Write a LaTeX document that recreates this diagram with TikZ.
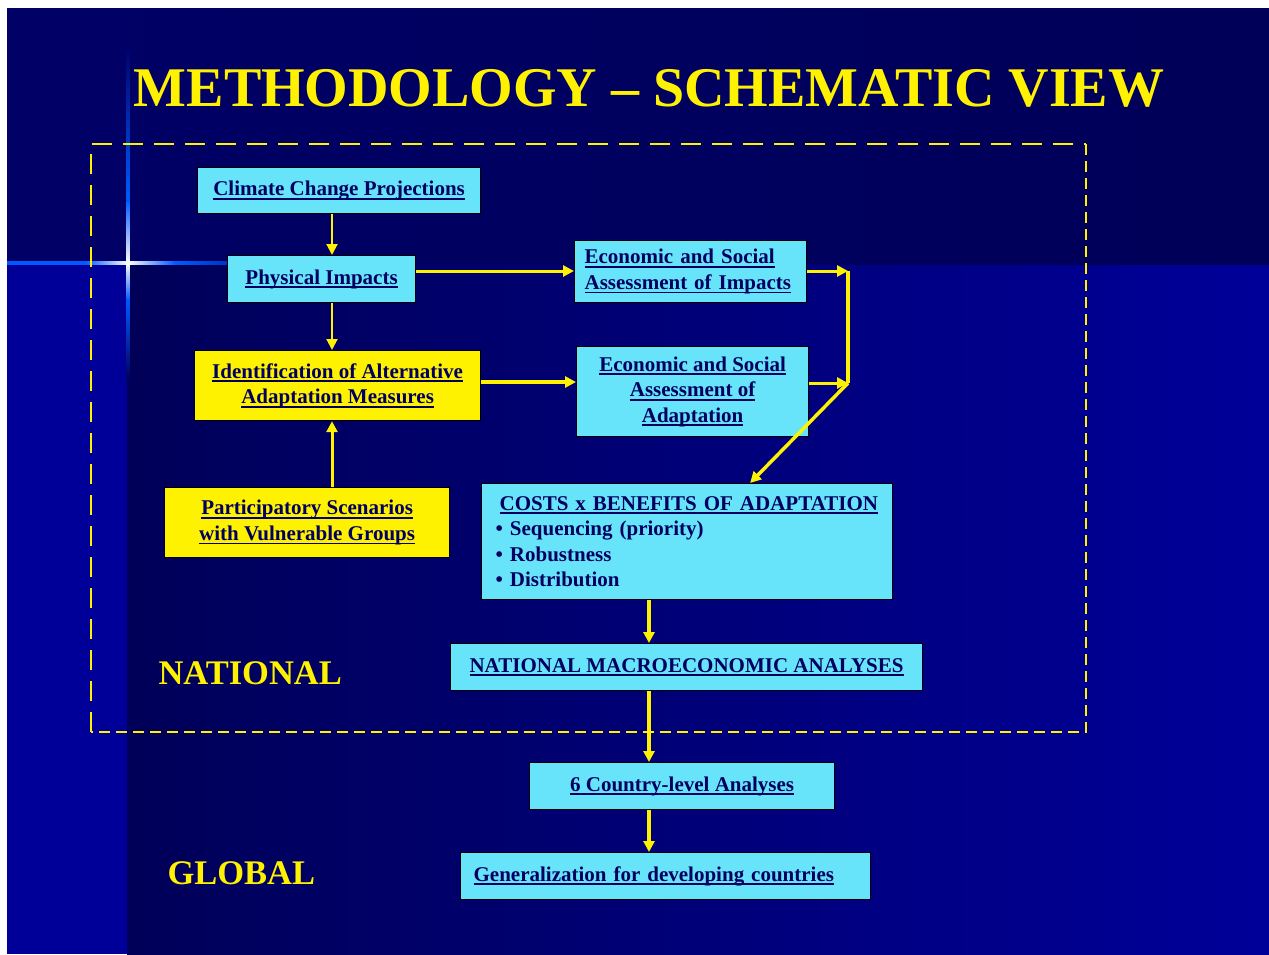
\documentclass[tikz,border=0pt]{standalone}
\usepackage{fontspec}
\setmainfont{Liberation Serif}
\usetikzlibrary{arrows.meta}

\definecolor{navybg}{RGB}{0,0,102}
\definecolor{navydeep}{RGB}{0,0,88}
\definecolor{bluebg}{RGB}{0,0,153}
\definecolor{glowblue}{RGB}{0,90,255}
\definecolor{boxcyan}{RGB}{104,228,250}
\definecolor{boxtext}{RGB}{0,0,96}

\newcommand{\boxfont}{\bfseries\fontsize{21}{25.5}\selectfont}
\newcommand{\ulin}[1]{\leavevmode\setbox0\hbox{#1}\rlap{\rule[-4pt]{\wd0}{1.8pt}}\box0}

\tikzset{
  cbox/.style={draw=black, line width=1.2pt, fill=boxcyan, text=boxtext,
    font=\boxfont, align=center, inner sep=0pt, anchor=north west},
  ybox/.style={cbox, fill=yellow},
  flow/.style={draw=yellow, line width=3.5pt, -{Triangle[length=11pt,width=11pt]}},
  thinflow/.style={flow, line width=2pt},
  levellabel/.style={text=yellow, font=\bfseries\fontsize{34.5}{40}\selectfont, anchor=base west},
}

\begin{document}
\begin{tikzpicture}[x=1pt,y=-1pt]
  \useasboundingbox (0,0) rectangle (1269,954);

  % slide background
  \fill[white] (0,0) rectangle (1269,954);
  \shade[left color=navybg, right color=navydeep] (7,8) rectangle (1269,265);
  \fill[navybg] (7,8) rectangle (127,265);
  \fill[bluebg] (7,265) rectangle (127,954);
  \shade[left color=navydeep, right color=bluebg] (127,265) rectangle (1269,954);

  % glow cross
  \shade[left color=glowblue, right color=glowblue] (7,261.5) rectangle (85,264.5);
  \shade[left color=glowblue, right color=white] (85,261.5) rectangle (128,264.5);
  \shade[left color=white, right color=glowblue] (128,261.5) rectangle (175,264.5);
  \shade[left color=glowblue, right color=navybg] (175,261.5) rectangle (300,264.5);
  \shade[top color=navybg, bottom color=glowblue] (126.5,45) rectangle (129.5,200);
  \shade[top color=glowblue, bottom color=white] (126.5,200) rectangle (129.5,263);
  \shade[top color=white, bottom color=glowblue] (126.5,263) rectangle (129.5,300);
  \shade[top color=glowblue, bottom color=navydeep] (126.5,300) rectangle (129.5,380);

  % title
  \node[text=yellow, font=\bfseries\fontsize{56}{60}\selectfont, anchor=base]
    (title) at (649,106) {METHODOLOGY -- SCHEMATIC VIEW};

  % national frame
  \draw[yellow, line width=2.5pt, dash pattern=on 20pt off 11pt]
    (91,732) -- (91,144) -- (1086,144);
  \draw[yellow, line width=1.6pt, dash pattern=on 11pt off 6pt]
    (1086,144) -- (1086,732) -- (91,732);

  \node[levellabel] (natlbl) at (155,684) {NATIONAL};
  \node[levellabel] (glolbl) at (164,884) {GLOBAL};

  % boxes
  \node[cbox, minimum width=283pt, minimum height=46pt] (climate) at (197,167)
    {\ulin{Climate Change Projections}};
  \node[cbox, minimum width=188pt, minimum height=47pt] (phys) at (227,255)
    {\ulin{Physical Impacts}};
  \node[cbox, minimum width=232pt, minimum height=62pt, text width=212pt,
        inner xsep=10pt, align=left] (econimp) at (574,240)
    {\ulin{Economic and Social}\\\ulin{Assessment of Impacts}};
  \node[ybox, minimum width=286pt, minimum height=70pt] (ident) at (194,350)
    {\ulin{Identification of Alternative}\\\ulin{Adaptation Measures}};
  \node[cbox, minimum width=232pt, minimum height=90pt] (econadapt) at (576,346)
    {\ulin{Economic and Social}\\\ulin{Assessment of}\\\ulin{Adaptation}};
  \node[ybox, minimum width=285pt, minimum height=70pt] (partic) at (164,487)
    {\ulin{Participatory Scenarios}\\\ulin{with Vulnerable Groups}};
  \node[cbox, minimum width=411pt, minimum height=116pt, text width=383pt,
        inner xsep=14pt, align=left] (costs) at (481,483)
    {\hspace*{4pt}\ulin{COSTS x BENEFITS OF ADAPTATION}\\
     \textbullet\ Sequencing (priority)\\
     \textbullet\ Robustness\\
     \textbullet\ Distribution};
  \node[cbox, minimum width=472pt, minimum height=47pt] (macro) at (450,643)
    {\ulin{NATIONAL MACROECONOMIC ANALYSES}};
  \node[cbox, minimum width=305pt, minimum height=47pt] (country) at (529,762)
    {\ulin{6 Country-level Analyses}};
  \node[cbox, minimum width=410pt, minimum height=47pt, text width=384pt,
        inner xsep=13pt, align=left] (general) at (460,852)
    {\ulin{Generalization for developing countries}};

  % connectors
  \coordinate (colA) at (332,0);
  \coordinate (colB) at (649,0);
  \coordinate (rowB) at (0,382);
  \coordinate (jtop) at (848,271);
  \coordinate (jbot) at (848,383);

  \draw[thinflow] (climate.south -| colA) -- (phys.north -| colA);
  \draw[thinflow] (phys.south -| colA) -- (ident.north -| colA);
  \draw[flow, line width=3pt] (partic.north -| colA) -- (ident.south -| colA);
  \draw[flow, line width=3pt] (phys.east |- jtop) -- (econimp.west |- jtop);
  \draw[flow, line width=4pt] (ident.east |- rowB) -- (econadapt.west |- rowB);
  \draw[flow, line width=3pt] (econimp.east |- jtop) -- (jtop);
  \draw[flow, line width=3pt] (econadapt.east |- jbot) -- (jbot);
  \draw[yellow, line width=3.5pt] (jtop) -- (jbot);
  \draw[flow] (jbot) -- ([xshift=63pt]costs.north);
  \draw[flow] (costs.south -| colB) -- (macro.north -| colB);
  \draw[flow] (macro.south -| colB) -- (country.north -| colB);
  \draw[flow] (country.south -| colB) -- (general.north -| colB);
\end{tikzpicture}
\end{document}
